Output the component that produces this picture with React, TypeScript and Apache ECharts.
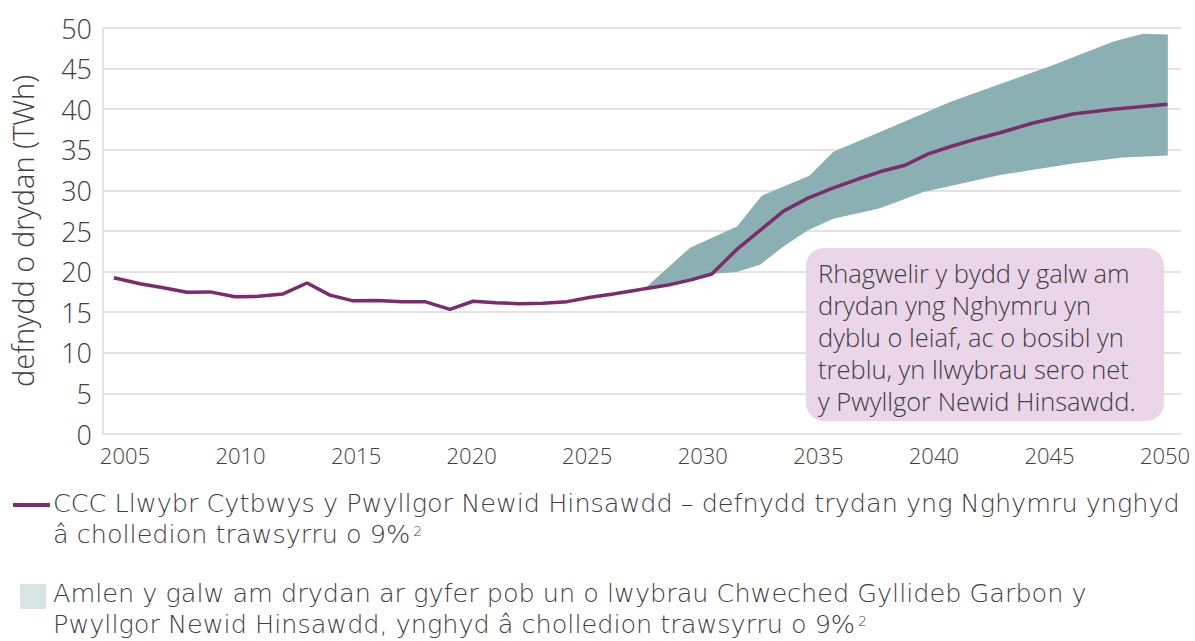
import React, { useEffect, useRef } from "react";
import * as echarts from "echarts";

// ---- data (x in years as drawn, y in TWh) ----
const xTickYears = [2005, 2010, 2015, 2020, 2025, 2030, 2035, 2040, 2045, 2050];

const historyYears = [2004.52, 2005.65, 2006.6, 2007.68, 2008.68, 2009.76, 2010.76, 2011.84, 2012.88, 2013.87, 2014.87, 2015.9, 2016.99, 2017.98, 2019.06, 2020.06, 2021.05, 2022.05, 2023.09, 2024.13, 2025.08, 2026.12, 2027.11];
const historyValues = [19.25, 18.5, 18.05, 17.45, 17.5, 16.9, 16.95, 17.25, 18.6, 17.1, 16.4, 16.45, 16.3, 16.3, 15.35, 16.35, 16.15, 16.05, 16.1, 16.3, 16.8, 17.25, 17.7];

const pathwayYears = [2027.5, 2028.5, 2029.45, 2030.39, 2031.5, 2032.57, 2033.49, 2034.55, 2035.65, 2036.72, 2037.73, 2038.75, 2039.75, 2040.83, 2041.91, 2042.86, 2044.29, 2046.02, 2047.75, 2048.92, 2050.1];
const pathwayValues = [17.9, 18.35, 18.95, 19.7, 22.8, 25.3, 27.45, 29.05, 30.3, 31.4, 32.35, 33.1, 34.5, 35.5, 36.4, 37.1, 38.3, 39.4, 40.0, 40.3, 40.6];

const upperYears = [2027.5, 2029.45, 2031.48, 2032.55, 2034.61, 2035.65, 2037.67, 2040.7, 2042.86, 2044.94, 2047.77, 2049.05, 2050.12];
const upperValues = [17.95, 22.95, 25.55, 29.35, 31.8, 34.75, 37.2, 40.9, 43.1, 45.2, 48.35, 49.3, 49.2];

const lowerYears = [2027.5, 2029.45, 2030.39, 2031.46, 2032.48, 2033.49, 2034.55, 2035.65, 2037.67, 2039.54, 2042.86, 2046.02, 2048.18, 2050.12];
const lowerValues = [17.95, 18.95, 19.7, 19.95, 20.85, 23.1, 25.1, 26.5, 27.8, 29.8, 31.9, 33.3, 34.05, 34.3];

const yAxisTitle = "defnydd o drydan (TWh)";
const annotationLines = [
  "Rhagwelir y bydd y galw am",
  "drydan yng Nghymru yn",
  "dyblu o leiaf, ac o bosibl yn",
  "treblu, yn llwybrau sero net",
  "y Pwyllgor Newid Hinsawdd.",
];
const legendLineText1 = "CCC Llwybr Cytbwys y Pwyllgor Newid Hinsawdd – defnydd trydan yng Nghymru ynghyd";
const legendLineText2 = "â cholledion trawsyrru o 9%";
const legendBandText1 = "Amlen y galw am drydan ar gyfer pob un o lwybrau Chweched Gyllideb Garbon y";
const legendBandText2 = "Pwyllgor Newid Hinsawdd, ynghyd â cholledion trawsyrru o 9%";
const footnoteMark = "2";

// ---- styles ----
const FONT = "'Open Sans', 'Noto Sans', sans-serif";
const LEGEND_FONT = "'DejaVu Sans', 'Open Sans', sans-serif";
const TEXT = "#404040";
const GRID = "#e3e3e3";
const LINE = "#7a2c6b";
const BAND = "#8bb0b3";
const BAND_SWATCH = "#d7e5e5";
const NOTE_BG = "#ebd5e9";

export default function App() {
  const ref = useRef<HTMLDivElement>(null);

  useEffect(() => {
    document.body.style.margin = "0";
    if (!ref.current) return;
    const chart = echarts.init(ref.current, null, { renderer: "svg" });

    const lineData = [
      ...historyYears.map((y, i) => [y, historyValues[i]]),
      ...pathwayYears.map((y, i) => [y, pathwayValues[i]]),
    ];
    const upper = upperYears.map((y, i) => [y, upperValues[i]]);
    const lower = lowerYears.map((y, i) => [y, lowerValues[i]]);

    const legendRich = {
      t: { fontFamily: LEGEND_FONT, fontWeight: 200, fontSize: 25.5, lineHeight: 31, fill: TEXT, color: TEXT },
      s: { fontFamily: LEGEND_FONT, fontWeight: 200, fontSize: 14, lineHeight: 14, verticalAlign: "top", fill: TEXT, color: TEXT, padding: [5, 0, 0, 3] },
    };

    chart.setOption({
      animation: false,
      backgroundColor: "#ffffff",
      textStyle: { fontFamily: FONT },
      grid: { left: 103, right: 14, top: 28, bottom: 207, containLabel: false },
      xAxis: {
        type: "value",
        min: 2004.05,
        max: 2050.69,
        axisLine: { show: false },
        axisTick: { show: false },
        splitLine: { show: false },
        axisLabel: {
          customValues: xTickYears,
          fontFamily: FONT,
          fontWeight: 300,
          fontSize: 22,
          color: TEXT,
          margin: 10,
          formatter: (v: number) => String(v),
        },
      },
      yAxis: {
        type: "value",
        min: 0,
        max: 50,
        interval: 5,
        name: yAxisTitle,
        nameLocation: "middle",
        nameRotate: 90,
        nameGap: 66,
        nameTextStyle: { fontFamily: FONT, fontWeight: 300, fontSize: 29, color: TEXT },
        axisLine: { show: true, lineStyle: { color: GRID, width: 2 } },
        axisTick: { show: false },
        splitLine: { show: true, lineStyle: { color: GRID, width: 2 } },
        axisLabel: { fontFamily: FONT, fontWeight: 300, fontSize: 27, color: TEXT, margin: 11 },
      },
      series: [
        {
          type: "custom",
          name: "band",
          z: 1,
          silent: true,
          data: upper,
          encode: { x: 0, y: 1 },
          renderItem: (params: any, api: any) => {
            if (params.dataIndex !== 0) return null;
            const pts = [
              ...upper.map((p) => api.coord(p)),
              ...lower.slice().reverse().map((p) => api.coord(p)),
            ];
            return { type: "polygon", shape: { points: pts }, style: { fill: BAND } };
          },
        },
        {
          type: "line",
          name: "CCC",
          z: 3,
          data: lineData,
          showSymbol: false,
          symbol: "none",
          lineStyle: { color: LINE, width: 3.5 },
        },
      ],
      graphic: [
        {
          type: "rect",
          left: 806,
          top: 248,
          shape: { width: 358, height: 173, r: 18 },
          style: { fill: NOTE_BG },
          z: 10,
        },
        {
          type: "text",
          left: 818,
          top: 257,
          z: 11,
          style: {
            text: annotationLines.join("\n"),
            fontFamily: FONT,
            fontWeight: 300,
            fontSize: 25.5,
            lineHeight: 32,
            fill: TEXT,
          },
        },
        {
          type: "line",
          shape: { x1: 13, y1: 505, x2: 50, y2: 505 },
          style: { stroke: LINE, lineWidth: 4 },
        },
        {
          type: "text",
          left: 53,
          top: 490,
          style: {
            text: `{t|${legendLineText1}}\n{t|${legendLineText2}}{s|${footnoteMark}}`,
            rich: legendRich,
          },
        },
        {
          type: "rect",
          shape: { x: 20, y: 584, width: 26, height: 25 },
          style: { fill: BAND_SWATCH },
        },
        {
          type: "text",
          left: 53,
          top: 580,
          style: {
            text: `{t|${legendBandText1}}\n{t|${legendBandText2}}{s|${footnoteMark}}`,
            rich: legendRich,
          },
        },
      ],
    });

    return () => chart.dispose();
  }, []);

  return <div ref={ref} style={{ width: 1195, height: 641 }} />;
}
